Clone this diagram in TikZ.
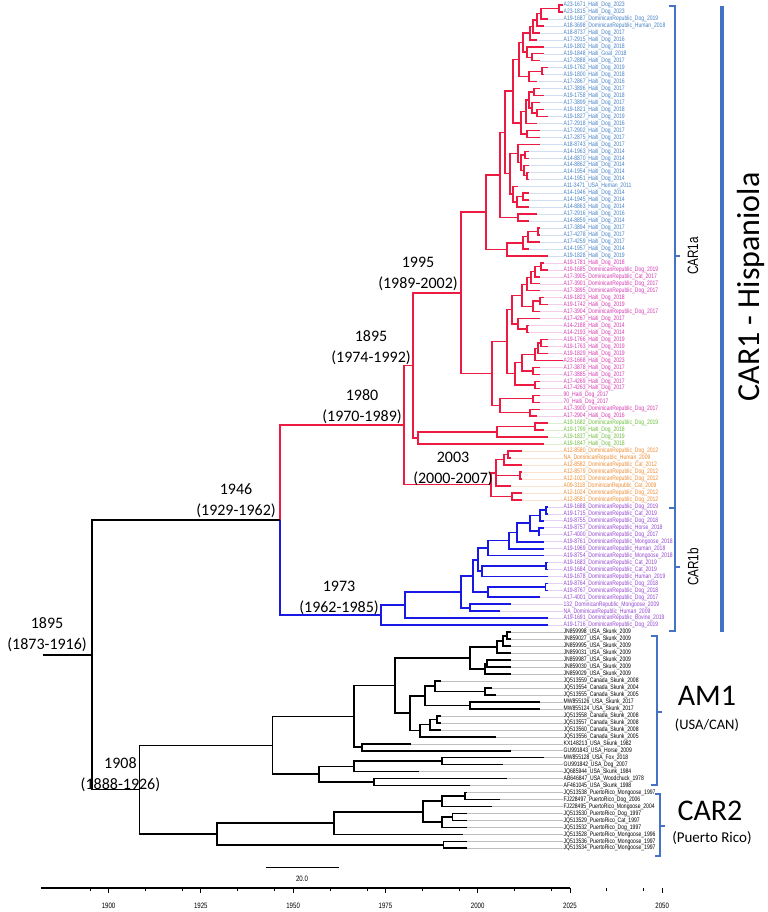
\documentclass[tikz,border=0pt]{standalone}
\usepackage{fontspec}
\setmainfont{Carlito}
\newfontfamily\narrowfont[FakeStretch=0.78]{Liberation Sans}
\usetikzlibrary{calc,positioning}

\definecolor{CARred}{RGB}{237,27,66}
\definecolor{CARblue}{RGB}{25,25,230}
\definecolor{LabBlue}{RGB}{70,130,200}
\definecolor{LabPink}{RGB}{214,60,180}
\definecolor{LabGreen}{RGB}{110,190,60}
\definecolor{LabOrange}{RGB}{240,140,50}
\definecolor{LabPurple}{RGB}{150,70,210}
\definecolor{CladeBlue}{RGB}{68,114,196}

% y of tip number #1, x of year #1
\newcommand{\tipy}[1]{5+(#1-1)*6.97}
\newcommand{\yrx}[1]{108.6+(#1-1900)*3.691}
% internal node: style, name, x, first child, last child
\newcommand{\clade}[5][]{%
  \path let \p1=($(#4)!.5!(#5)$) in coordinate (#2) at (#3,\y1);
  \draw[#1] (#2) |- (#4);
  \draw[#1] (#2) |- (#5);
}
% a group of tips in one label colour
\newcommand{\tipgroup}[2]{%
  \foreach \i/\yr/\lab in {#2}{
    \coordinate (t\i) at ({\yrx{\yr}},{\tipy{\i}});
    \node[tiplbl, text=#1] (l\i) at (563,{\tipy{\i}}) {\lab};
    \draw[extline, #1!25] (t\i) -- (l\i);
  }%
}

\begin{document}
\begin{tikzpicture}[
    x=1pt, y=-1pt,
    tiplbl/.style={anchor=west, inner sep=0.5pt, font=\narrowfont\fontsize{6.5}{7}\selectfont},
    extline/.style={line width=0.5pt},
    blackbr/.style={line width=1.6pt, black},
    redbr/.style={line width=1.4pt, CARred},
    bluebr/.style={line width=1.8pt, CARblue},
    datelbl/.style={align=center, inner sep=0pt, font=\fontsize{16}{21}\selectfont},
    brace/.style={line width=2.6pt, CladeBlue},
    cladelbl/.style={font=\narrowfont\fontsize{15}{18}\selectfont},
    axislbl/.style={font=\narrowfont\fontsize{7.8}{9}\selectfont}
  ]
  \fill[white] (0,0) rectangle (767,912);

  % Tips
  \tipgroup{LabBlue}{1/2023/A23-1671\_Haiti\_Dog\_2023, 2/2023/A23-1815\_Haiti\_Dog\_2023,
    3/2019/A19-1687\_DominicanRepublic\_Dog\_2019, 4/2018/A18-3698\_DominicanRepublic\_Human\_2018,
    5/2017/A18-8737\_Haiti\_Dog\_2017, 6/2016/A17-2915\_Haiti\_Dog\_2016, 7/2018/A19-1802\_Haiti\_Dog\_2018,
    8/2018/A19-1848\_Haiti\_Goat\_2018, 9/2017/A17-2888\_Haiti\_Dog\_2017, 10/2019/A19-1762\_Haiti\_Dog\_2019,
    11/2018/A19-1800\_Haiti\_Dog\_2018, 12/2016/A17-2867\_Haiti\_Dog\_2016, 13/2017/A17-3896\_Haiti\_Dog\_2017,
    14/2018/A19-1758\_Haiti\_Dog\_2018, 15/2017/A17-3899\_Haiti\_Dog\_2017, 16/2018/A19-1821\_Haiti\_Dog\_2018,
    17/2019/A19-1827\_Haiti\_Dog\_2019, 18/2016/A17-2918\_Haiti\_Dog\_2016, 19/2017/A17-2902\_Haiti\_Dog\_2017,
    20/2017/A17-2875\_Haiti\_Dog\_2017, 21/2017/A18-8743\_Haiti\_Dog\_2017, 22/2014/A14-1963\_Haiti\_Dog\_2014,
    23/2014/A14-8870\_Haiti\_Dog\_2014, 24/2014/A14-8862\_Haiti\_Dog\_2014, 25/2014/A14-1954\_Haiti\_Dog\_2014,
    26/2014/A14-1951\_Haiti\_Dog\_2014, 27/2011/A11-3471\_USA\_Human\_2011, 28/2014/A14-1946\_Haiti\_Dog\_2014,
    29/2014/A14-1945\_Haiti\_Dog\_2014, 30/2014/A14-8863\_Haiti\_Dog\_2014, 31/2016/A17-2916\_Haiti\_Dog\_2016,
    32/2014/A14-8859\_Haiti\_Dog\_2014, 33/2017/A17-3894\_Haiti\_Dog\_2017, 34/2017/A17-4278\_Haiti\_Dog\_2017,
    35/2017/A17-4259\_Haiti\_Dog\_2017, 36/2014/A14-1957\_Haiti\_Dog\_2014, 37/2019/A19-1828\_Haiti\_Dog\_2019}
  \tipgroup{LabPink}{38/2018/A19-1781\_Haiti\_Dog\_2018, 39/2019/A19-1685\_DominicanRepublic\_Dog\_2019,
    40/2017/A17-3905\_DominicanRepublic\_Cat\_2017, 41/2017/A17-3901\_DominicanRepublic\_Dog\_2017,
    42/2017/A17-3895\_DominicanRepublic\_Dog\_2017, 43/2018/A19-1823\_Haiti\_Dog\_2018,
    44/2019/A19-1742\_Haiti\_Dog\_2019, 45/2017/A17-3904\_DominicanRepublic\_Dog\_2017,
    46/2017/A17-4267\_Haiti\_Dog\_2017, 47/2014/A14-2188\_Haiti\_Dog\_2014, 48/2014/A14-2193\_Haiti\_Dog\_2014,
    49/2019/A19-1766\_Haiti\_Dog\_2019, 50/2019/A19-1763\_Haiti\_Dog\_2019, 51/2019/A19-1829\_Haiti\_Dog\_2019,
    52/2023/A23-1668\_Haiti\_Dog\_2023, 53/2017/A17-3878\_Haiti\_Dog\_2017, 54/2017/A17-3885\_Haiti\_Dog\_2017,
    55/2017/A17-4269\_Haiti\_Dog\_2017, 56/2017/A17-4263\_Haiti\_Dog\_2017, 57/2017/90\_Haiti\_Dog\_2017,
    58/2017/70\_Haiti\_Dog\_2017, 59/2017/A17-3900\_DominicanRepublic\_Dog\_2017, 60/2016/A17-2904\_Haiti\_Dog\_2016}
  \tipgroup{LabGreen}{61/2019/A19-1682\_DominicanRepublic\_Dog\_2019, 62/2018/A19-1799\_Haiti\_Dog\_2018,
    63/2019/A19-1837\_Haiti\_Dog\_2019, 64/2018/A19-1847\_Haiti\_Dog\_2018}
  \tipgroup{LabOrange}{65/2012/A12-8580\_DominicanRepublic\_Dog\_2012, 66/2009/NA\_DominicanRepublic\_Human\_2009,
    67/2012/A12-8582\_DominicanRepublic\_Cat\_2012, 68/2012/A12-8579\_DominicanRepublic\_Dog\_2012,
    69/2012/A12-1023\_DominicanRepublic\_Dog\_2012, 70/2009/A09-3118\_DominicanRepublic\_Cat\_2009,
    71/2012/A12-1024\_DominicanRepublic\_Dog\_2012, 72/2012/A12-8581\_DominicanRepublic\_Dog\_2012}
  \tipgroup{LabPurple}{73/2019/A19-1688\_DominicanRepublic\_Dog\_2019, 74/2019/A19-1715\_DominicanRepublic\_Cat\_2019,
    75/2018/A19-8755\_DominicanRepublic\_Dog\_2018, 76/2018/A19-8757\_DominicanRepublic\_Horse\_2018,
    77/2017/A17-4000\_DominicanRepublic\_Dog\_2017, 78/2018/A19-8761\_DominicanRepublic\_Mongoose\_2018,
    79/2018/A19-1969\_DominicanRepublic\_Human\_2018, 80/2018/A19-8754\_DominicanRepublic\_Mongoose\_2018,
    81/2019/A19-1683\_DominicanRepublic\_Cat\_2019, 82/2019/A19-1684\_DominicanRepublic\_Cat\_2019,
    83/2019/A19-1678\_DominicanRepublic\_Human\_2019, 84/2019/A19-8764\_DominicanRepublic\_Dog\_2018,
    85/2019/A19-8767\_DominicanRepublic\_Dog\_2018, 86/2017/A17-4001\_DominicanRepublic\_Dog\_2017,
    87/2009/132\_DominicanRepublic\_Mongoose\_2009, 88/2006/NA\_DominicanRepublic\_Human\_2009,
    89/2019/A19-1691\_DominicanRepublic\_Bovine\_2019, 90/2019/A19-1716\_DominicanRepublic\_Dog\_2019}
  \tipgroup{black}{91/2009/JN859998\_USA\_Skunk\_2009, 92/2009/JN859027\_USA\_Skunk\_2009,
    93/2009/JN859995\_USA\_Skunk\_2009, 94/2009/JN859031\_USA\_Skunk\_2009, 95/2009/JN859987\_USA\_Skunk\_2009,
    96/2009/JN859030\_USA\_Skunk\_2009, 97/2009/JN859029\_USA\_Skunk\_2009, 98/1990/JQ513559\_Canada\_Skunk\_2008,
    99/2004/JQ513554\_Canada\_Skunk\_2004, 100/2005/JQ513555\_Canada\_Skunk\_2005, 101/2017/MW855126\_USA\_Skunk\_2017,
    102/2017/MW855124\_USA\_Skunk\_2017, 103/1990/JQ513558\_Canada\_Skunk\_2008, 104/1990/JQ513557\_Canada\_Skunk\_2008,
    105/1990/JQ513560\_Canada\_Skunk\_2008, 106/2005/JQ513556\_Canada\_Skunk\_2005, 107/1982/KX148213\_USA\_Skunk\_1982,
    108/2009/GU991843\_USA\_Horse\_2009, 109/2018/MW855128\_USA\_Fox\_2018, 110/2007/GU991842\_USA\_Dog\_2007,
    111/1984/JQ685944\_USA\_Skunk\_1984, 112/2008/AB646847\_USA\_Woodchuck\_1978, 113/1998/AF461045\_USA\_Skunk\_1998,
    114/1997/JQ513538\_PuertoRico\_Mongoose\_1997, 115/2006/FJ228497\_PuertoRico\_Dog\_2006,
    116/2004/FJ228495\_PuertoRico\_Mongoose\_2004, 117/1997/JQ513530\_PuertoRico\_Dog\_1997,
    118/1997/JQ513529\_PuertoRico\_Cat\_1997, 119/1997/JQ513532\_PuertoRico\_Dog\_1997,
    120/1996/JQ513528\_PuertoRico\_Mongoose\_1996, 121/1997/JQ513536\_PuertoRico\_Mongoose\_1997,
    122/1997/JQ513534\_PuertoRico\_Mongoose\_1997}

  % CAR1a, Haiti group
  \clade[redbr]{Na}{559}{t1}{t2}
  \clade[redbr]{Nb}{541}{Na}{t3}
  \clade[redbr]{Nc}{537}{Nb}{t4}
  \clade[redbr]{Nd}{533}{Nc}{t5}
  \clade[redbr]{Ne}{530}{Nd}{t6}
  \clade[redbr]{Ng1}{532}{t8}{t9}
  \clade[redbr]{Ng}{527}{t7}{Ng1}
  \clade[redbr]{Nf}{523}{Ne}{Ng}
  \clade[redbr]{Nh1}{542}{t10}{t11}
  \clade[redbr]{Nh}{529}{Nh1}{t12}
  \clade[redbr]{Ni}{519}{Nf}{Nh}
  \clade[redbr]{Nj}{534}{t13}{t14}
  \clade[redbr]{Nk}{537}{t16}{t17}
  \clade[redbr]{Nl}{532}{t15}{Nk}
  \clade[redbr]{Nm}{529}{Nj}{Nl}
  \clade[redbr]{Nn}{526}{Nm}{t18}
  \clade[redbr]{No1}{527}{t19}{t20}
  \clade[redbr]{No}{521}{Nn}{No1}
  \clade[redbr]{Hp1}{513}{Ni}{No}
  \clade[redbr]{Q0}{525}{t22}{t23}
  \clade[redbr]{Q1a}{527}{t25}{t26}
  \clade[redbr]{Q1}{524}{t24}{Q1a}
  \clade[redbr]{Q2}{521}{Q0}{Q1}
  \clade[redbr]{Q3}{518}{t21}{Q2}
  \clade[redbr]{Q4a}{523}{t28}{t29}
  \clade[redbr]{Q4}{517}{Q4a}{t30}
  \clade[redbr]{Q5}{513}{t27}{Q4}
  \clade[redbr]{Q6}{510}{Q3}{Q5}
  \clade[redbr]{Hp2}{505}{Hp1}{Q6}
  \clade[redbr]{U0}{518}{t31}{t32}
  \clade[redbr]{U1}{500}{Hp2}{U0}
  \clade[redbr]{L4}{538}{t33}{t34}
  \clade[redbr]{L3}{528}{L4}{t35}
  \clade[redbr]{L2}{523}{L3}{t36}
  \clade[redbr]{L1}{507}{L2}{t37}
  \clade[redbr]{H0}{486}{U1}{L1}

  % CAR1a, pink group
  \clade[redbr]{PA1}{541}{t38}{t39}
  \clade[redbr]{PA2}{535}{PA1}{t40}
  \clade[redbr]{PA3}{531}{PA2}{t41}
  \clade[redbr]{PA4}{527}{PA3}{t42}
  \clade[redbr]{PA5}{540}{t43}{t44}
  \clade[redbr]{PA6}{533}{PA5}{t45}
  \clade[redbr]{PA7}{522}{PA4}{PA6}
  \clade[redbr]{PA8}{527}{t47}{t48}
  \clade[redbr]{PA9}{518}{t46}{PA8}
  \clade[redbr]{PA10}{512}{PA7}{PA9}
  \clade[redbr]{PB1}{541}{t49}{t50}
  \clade[redbr]{PB2}{538}{PB1}{t51}
  \clade[redbr]{PB3}{535}{PB2}{t52}
  \clade[redbr]{PB4}{533}{t53}{t54}
  \clade[redbr]{PB5}{522}{PB3}{PB4}
  \clade[redbr]{PB6}{535}{t55}{t56}
  \clade[redbr]{PB7}{515}{PB5}{PB6}
  \clade[redbr]{PAB}{507}{PA10}{PB7}
  \clade[redbr]{PC1}{533}{t57}{t58}
  \clade[redbr]{PC2}{530}{t59}{t60}
  \clade[redbr]{PC3}{500}{PC1}{PC2}
  \clade[redbr]{P0}{492}{PAB}{PC3}
  \clade[redbr]{N1995}{461}{H0}{P0}

  % CAR1a, green and orange groups
  \clade[redbr]{G1}{535}{t61}{t62}
  \clade[redbr]{G2}{497}{G1}{t63}
  \clade[redbr]{G3}{418}{G2}{t64}
  \clade[redbr]{N1982}{413}{N1995}{G3}
  \clade[redbr]{O1}{508}{t65}{t66}
  \clade[redbr]{O2}{504}{O1}{t67}
  \clade[redbr]{O3}{520}{t68}{t69}
  \clade[redbr]{O4}{496}{O2}{t70}
  \draw[redbr] (O4) |- (O3);
  \clade[redbr]{O5}{512}{t71}{t72}
  \clade[redbr]{N2003}{491}{O4}{O5}
  \clade[redbr]{N1980}{404}{N1982}{N2003}

  % CAR1b
  \clade[bluebr]{D1}{546}{t73}{t74}
  \clade[bluebr]{D2}{540}{D1}{t75}
  \clade[bluebr]{D3}{539}{t76}{t77}
  \clade[bluebr]{D4}{530}{D2}{D3}
  \clade[bluebr]{D5}{517}{D4}{t78}
  \clade[bluebr]{D6}{509}{D5}{t79}
  \clade[bluebr]{D7}{488}{D6}{t80}
  \clade[bluebr]{D8}{546}{t81}{t82}
  \clade[bluebr]{D9}{482}{D8}{t83}
  \clade[bluebr]{D10}{478}{D7}{D9}
  \clade[bluebr]{D11}{545.5}{t84}{t85}
  \clade[bluebr]{D12}{488}{D11}{t86}
  \clade[bluebr]{D13}{473}{D10}{D12}
  \clade[bluebr]{D14}{470}{t87}{t88}
  \clade[bluebr]{D15}{461}{D13}{D14}
  \clade[bluebr]{D16}{405}{D15}{t89}
  \clade[bluebr]{N1973}{381}{D16}{t90}

  % CAR1 node
  \path let \p1=($(N1980)!.5!(N1973)$) in coordinate (N1946) at (280,\y1);
  \draw[redbr] (N1946) |- (N1980);
  \draw[bluebr] (N1946) |- (N1973);

  % AM1
  \clade[blackbr]{J1}{507}{t91}{t92}
  \clade[blackbr]{J2}{503}{J1}{t93}
  \clade[blackbr]{J3}{497}{J2}{t94}
  \clade[blackbr]{J4}{487}{t95}{t96}
  \clade[blackbr]{J5}{485}{J4}{t97}
  \clade[blackbr]{J6}{470}{J3}{J5}
  \clade[blackbr]{K1}{485}{t99}{t100}
  \clade[blackbr]{K2}{435}{t98}{K1}
  \clade[blackbr]{K3}{470}{t101}{t102}
  \clade[blackbr]{K4}{425}{K2}{K3}
  \clade[blackbr]{K5}{437}{t103}{t104}
  \clade[blackbr]{K6}{430}{K5}{t105}
  \clade[blackbr]{K7}{420}{K6}{t106}
  \clade[blackbr]{K8}{410}{K4}{K7}
  \clade[blackbr]{J7}{395}{J6}{K8}
  \clade[blackbr]{A5}{362}{t107}{t108}
  \clade[blackbr]{AU}{354}{J7}{A5}
  \clade[blackbr]{A1}{442}{t109}{t110}
  \clade[blackbr]{A2}{354}{A1}{t111}
  \clade[blackbr]{A3}{374}{t112}{t113}
  \clade[blackbr]{A4}{319}{A2}{A3}
  \clade[blackbr]{A0}{272.5}{AU}{A4}

  % CAR2
  \clade[blackbr]{C1}{465}{t114}{t115}
  \clade[blackbr]{C2}{442}{C1}{t116}
  \clade[blackbr]{C3}{452.5}{t117}{t118}
  \clade[blackbr]{C4}{442}{C3}{t119}
  \clade[blackbr]{C5}{423}{C2}{C4}
  \clade[blackbr]{C6}{334}{C5}{t120}
  \clade[blackbr]{C7}{443.7}{t121}{t122}
  \clade[blackbr]{C0}{217}{C6}{C7}

  % Root
  \clade[blackbr]{N1908}{139.4}{A0}{C0}
  \clade[blackbr]{N1895}{92}{N1946}{N1908}
  \path let \p1=(N1895) in coordinate (r0) at (43,\y1);
  \draw[blackbr] (r0) -- (N1895);

  % Node ages
  \node[datelbl, above left=3pt and 5pt of N1895] (d1895) {1895\\(1873-1916)};
  \node[datelbl, above left=-2pt and -21pt of N1908] (d1908) {1908\\(1888-1926)};
  \node[datelbl, above left=2pt and 4pt of N1946] (d1946) {1946\\(1929-1962)};
  \node[datelbl, above left=0pt and 2pt of N1973] (d1973) {1973\\(1962-1985)};
  \node[datelbl, above left=1pt and 2pt of N1980] (d1980) {1980\\(1970-1989)};
  \node[datelbl, above left=1pt and 2pt of N1982] (d1982) {1895\\(1974-1992)};
  \node[datelbl, above left=2pt and 3pt of N1995] (d1995) {1995\\(1989-2002)};
  \node[datelbl, above left=-1pt and -2pt of N2003] (d2003) {2003\\(2000-2007)};

  % Clade brackets
  \draw[brace] (669,6) -- (675,6) -- (675,631) -- (669,631);
  \draw[brace] (669,508) -- (675,508);
  \draw[brace] (675,256) -- (680,256);
  \draw[brace] (675,567) -- (680,567);
  \node[cladelbl, rotate=90] (car1a) at (693,256) {CAR1a};
  \node[cladelbl, rotate=90] (car1b) at (693,567) {CAR1b};
  \draw[line width=4.5pt, CladeBlue] (722,6) -- (722,632);
  \node[rotate=90, font=\fontsize{32}{36}\selectfont] (car1) at (751,287) {CAR1 - Hispaniola};

  \draw[brace] (651,636) -- (657,636) -- (657,785) -- (651,785);
  \draw[brace] (657,712) -- (662,712);
  \node[font=\fontsize{30}{34}\selectfont] (am1) at (707,696) {AM1};
  \node[font=\fontsize{14.5}{17}\selectfont] (usacan) at (707,725) {(USA/CAN)};

  \draw[brace] (655,794) -- (660,794) -- (660,856) -- (655,856);
  \draw[brace] (660,826) -- (665,826);
  \node[font=\fontsize{30}{34}\selectfont] (car2) at (710,811) {CAR2};
  \node[font=\fontsize{15}{18}\selectfont] (pr) at (712,838) {(Puerto Rico)};

  % Scale bar
  \coordinate (sbL) at (265.6,867.7);
  \coordinate (sbR) at (339.5,867.7);
  \draw[line width=1.6pt] (sbL) -- (sbR);
  \node[axislbl] (sblbl) at (302,879) {20.0};

  % Time axis
  \draw[line width=1.6pt] (41,888) -- ({\yrx{2025}},888);
  \foreach \yr in {1900,1925,...,2050}{
    \draw[line width=0.8pt] ({\yrx{\yr}},888) -- ++(0,5);
    \node[axislbl] at ({\yrx{\yr}},906) {\yr};
  }
  \foreach \yr in {1895,1910,1920,1935,1945,1960,1970,1985,1995,2010,2020,2035,2045}
    \draw[line width=0.8pt] ({\yrx{\yr}},888) -- ++(0,3);
\end{tikzpicture}
\end{document}
